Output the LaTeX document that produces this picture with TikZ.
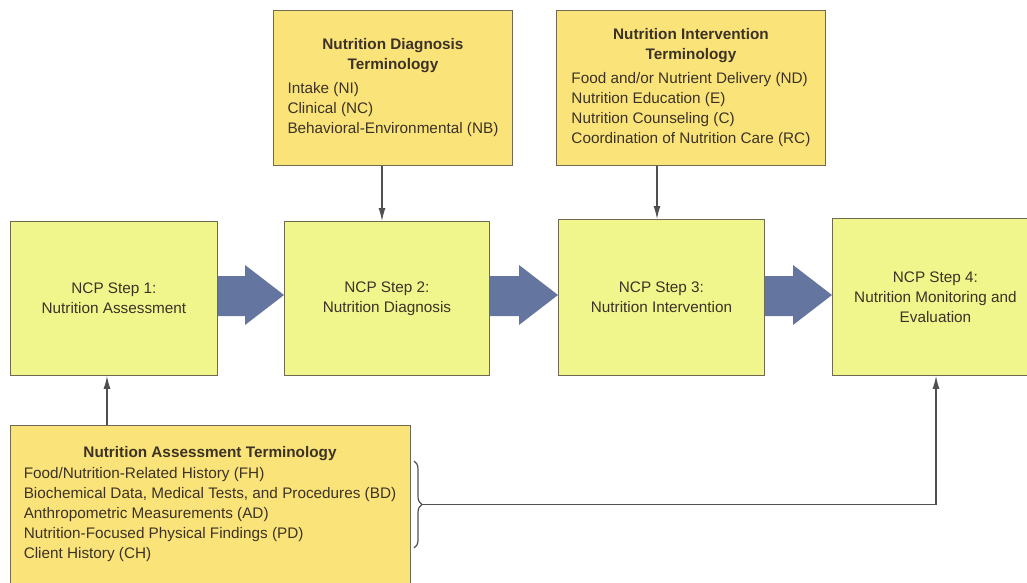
\documentclass[tikz,border=0pt]{standalone}
\usepackage{fontspec}
\setmainfont{Liberation Sans}
\usetikzlibrary{arrows.meta,decorations.pathreplacing,calc}
\definecolor{stepfill}{RGB}{240,246,140}
\definecolor{termfill}{RGB}{250,228,122}
\definecolor{edge}{RGB}{110,105,80}
\definecolor{arrfill}{RGB}{100,118,160}
\definecolor{txt}{RGB}{60,50,38}
\definecolor{linecol}{RGB}{80,80,80}
\newcommand\bigarrow[2]{\fill[bigarr] (#1.east |- 0,276) -- ($(#2.west |- 0,276)+(-39,0)$) -- ($(#2.west |- 0,265)+(-39,0)$) -- (#2.west |- 0,295) -- ($(#2.west |- 0,325)+(-39,0)$) -- ($(#2.west |- 0,316)+(-39,0)$) -- (#1.east |- 0,316) -- cycle;}
\begin{document}
\begin{tikzpicture}[x=1pt,y=-1pt,
 stepbox/.style={draw=edge,line width=0.9pt,fill=stepfill,anchor=north west,inner sep=0pt,align=center,font=\fontsize{15.3}{20}\selectfont,text=txt},
 termbox/.style={draw=edge,line width=0.9pt,fill=termfill,anchor=north west,inner sep=0pt,align=center,font=\fontsize{15.3}{20}\selectfont,text=txt},
 termtext/.style={inner sep=0pt,font=\fontsize{15.3}{20}\selectfont,text=txt},
 conn/.style={draw=linecol,line width=1.2pt,-{Latex[length=13pt,width=7pt]}},
 bracestyle/.style={draw=linecol,line width=1.2pt,decorate,decoration={brace,amplitude=8pt}},
 plainline/.style={draw=linecol,line width=1.2pt},
 bigarr/.style={fill=arrfill}]
\useasboundingbox (0,0) rectangle (1027,583);
% step boxes
\node[stepbox,minimum width=207pt,minimum height=154pt] (s1) at (10,221) {NCP Step 1:\\Nutrition Assessment};
\node[stepbox,minimum width=205pt,minimum height=154pt] (s2) at (284,221) {NCP Step 2:\\Nutrition Diagnosis};
\node[stepbox,minimum width=206pt,minimum height=156pt] (s3) at (558,219) {NCP Step 3:\\Nutrition Intervention};
\node[stepbox,minimum width=206pt,minimum height=157pt] (s4) at (832,218) {NCP Step 4:\\Nutrition Monitoring and\\Evaluation};
% terminology boxes
\node[termbox,minimum width=239pt,minimum height=155pt] (t1) at (273,10) {\begin{tabular}{@{}l@{}}\multicolumn{1}{@{}c@{}}{\bfseries Nutrition Diagnosis}\\\multicolumn{1}{@{}c@{}}{\bfseries Terminology}\\[4pt]Intake (NI)\\Clinical (NC)\\Behavioral-Environmental (NB)\end{tabular}};
\node[termbox,minimum width=269pt,minimum height=155pt] (t2) at (556,10) {\begin{tabular}{@{}l@{}}\multicolumn{1}{@{}c@{}}{\bfseries Nutrition Intervention}\\\multicolumn{1}{@{}c@{}}{\bfseries Terminology}\\[4pt]Food and/or Nutrient Delivery (ND)\\Nutrition Education (E)\\Nutrition Counseling (C)\\Coordination of Nutrition Care (RC)\end{tabular}};
\node[termbox,minimum width=400pt,minimum height=170pt] (bb) at (10,425) {};
\node[termtext] (bt) at (210,504) {\begin{tabular}{@{}l@{}}\multicolumn{1}{@{}c@{}}{\bfseries Nutrition Assessment Terminology}\\[1pt]Food/Nutrition-Related History (FH)\\Biochemical Data, Medical Tests, and Procedures (BD)\\Anthropometric Measurements (AD)\\Nutrition-Focused Physical Findings (PD)\\Client History (CH)\end{tabular}};
% big arrows
\bigarrow{s1}{s2}
\bigarrow{s2}{s3}
\bigarrow{s3}{s4}
% connectors
\coordinate (a1) at (382,0);
\coordinate (a2) at (657,0);
\coordinate (a3) at (107,0);
\draw[conn] (t1.south -| a1) -- (s2.north -| a1);
\draw[conn] (t2.south -| a2) -- (s3.north -| a2);
\draw[conn] (bb.north -| a3) -- (s1.south -| a3);
% brace and line to step 4
\coordinate (br1) at (414,461);
\coordinate (br2) at (414,548);
\coordinate (btip) at (422,504.5);
\coordinate (c4) at (936,504.5);
\draw[bracestyle] (br1) -- (br2);
\draw[plainline] (btip) -- (c4);
\draw[conn] (c4) -- (s4.south -| c4);
\end{tikzpicture}
\end{document}
